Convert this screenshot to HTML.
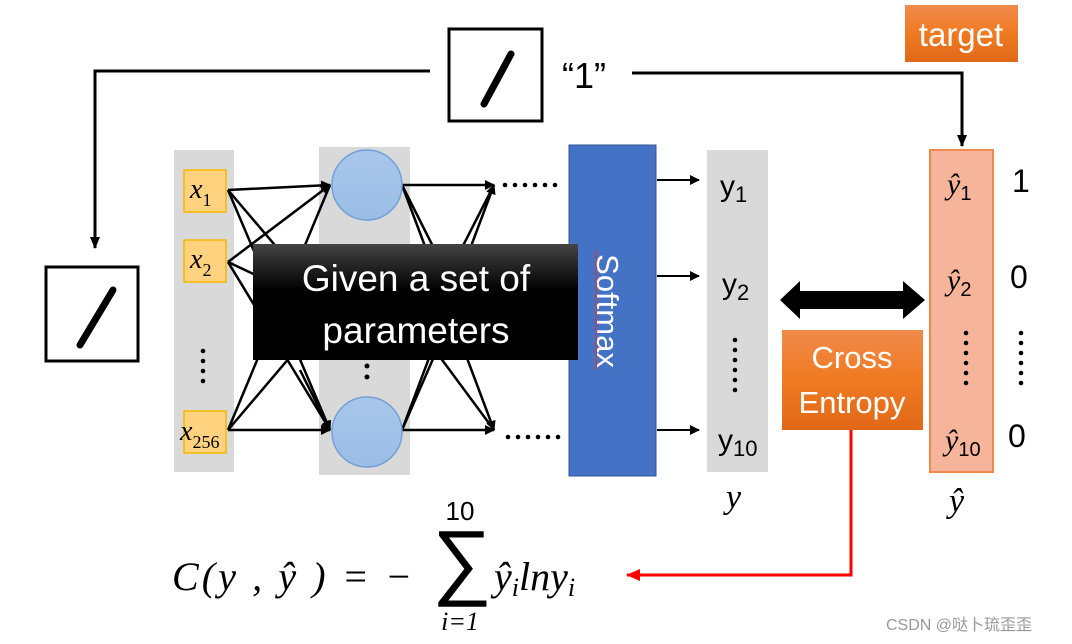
<!DOCTYPE html>
<html><head><meta charset="utf-8"><style>
html,body{margin:0;padding:0;background:#fff;}
svg{display:block;}
text{font-family:"Liberation Sans","Noto Sans CJK SC",sans-serif;}
.serif, .serif text, text.serif{font-family:"Liberation Serif","DejaVu Serif",serif;font-style:italic;}
</style></head><body>
<svg width="1072" height="644" viewBox="0 0 1072 644" xmlns="http://www.w3.org/2000/svg">
<defs>
<marker id="ah" markerWidth="10" markerHeight="10" refX="9" refY="5" orient="auto" markerUnits="userSpaceOnUse"><path d="M0,0 L10,5 L0,10 z" fill="#000"/></marker>
<marker id="ahs" markerWidth="12" markerHeight="12" refX="11" refY="6" orient="auto" markerUnits="userSpaceOnUse"><path d="M0,1 L12,6 L0,11 z" fill="#000"/></marker>
<marker id="ahr" markerWidth="14" markerHeight="12" refX="13" refY="6" orient="auto" markerUnits="userSpaceOnUse"><path d="M0,0 L14,6 L0,12 z" fill="#f00"/></marker>
<linearGradient id="og" x1="0" y1="0" x2="0" y2="1"><stop offset="0" stop-color="#f08a4b"/><stop offset="0.5" stop-color="#f07a22"/><stop offset="1" stop-color="#e06818"/></linearGradient>
<linearGradient id="bg" x1="0" y1="0" x2="0" y2="1"><stop offset="0" stop-color="#444"/><stop offset="0.4" stop-color="#000"/><stop offset="1" stop-color="#000"/></linearGradient>
<linearGradient id="cg" x1="0" y1="0" x2="0" y2="1"><stop offset="0" stop-color="#a9c6ea"/><stop offset="1" stop-color="#9bbde6"/></linearGradient>
</defs>

<rect x="449" y="29" width="93" height="92" fill="#fff" stroke="#000" stroke-width="3"/>
<line x1="511" y1="54" x2="484" y2="104" stroke="#000" stroke-width="7" stroke-linecap="round"/>
<text x="562" y="88" font-size="36" fill="#000">“1”</text>
<polyline points="430,71 95,71 95,248" fill="none" stroke="#000" stroke-width="3" marker-end="url(#ahs)"/>
<polyline points="632,73 962,73 962,146" fill="none" stroke="#000" stroke-width="3" marker-end="url(#ahs)"/>

<rect x="46" y="267" width="92" height="94" fill="#fff" stroke="#000" stroke-width="3"/>
<line x1="113" y1="290" x2="80" y2="345" stroke="#000" stroke-width="7" stroke-linecap="round"/>

<rect x="905" y="5" width="113" height="57" fill="url(#og)"/>
<text x="961" y="46" font-size="33" fill="#fff" text-anchor="middle">target</text>

<rect x="174" y="150" width="60" height="322" fill="#d9d9d9"/>
<rect x="319" y="147" width="91" height="328" fill="#d9d9d9"/>
<rect x="707" y="150" width="61" height="322" fill="#d9d9d9"/>
<rect x="930" y="150" width="63" height="322" fill="#f6b49a" stroke="#f08a4b" stroke-width="2"/>

<g stroke="#000" stroke-width="2.5" fill="none">
<line x1="228" y1="190" x2="330" y2="185" marker-end="url(#ah)"/>
<line x1="228" y1="190" x2="330" y2="430" marker-end="url(#ah)"/>
<line x1="228" y1="190" x2="330" y2="310"/>
<line x1="228" y1="262" x2="330" y2="185" marker-end="url(#ah)"/>
<line x1="228" y1="262" x2="330" y2="430" marker-end="url(#ah)"/>
<line x1="228" y1="262" x2="330" y2="310"/>
<line x1="228" y1="430" x2="330" y2="185"/>
<line x1="228" y1="430" x2="330" y2="430" marker-end="url(#ah)"/>
<line x1="228" y1="430" x2="330" y2="310"/>
<line x1="300" y1="370" x2="330" y2="430"/>
<line x1="402" y1="185" x2="494" y2="185" marker-end="url(#ah)"/>
<line x1="402" y1="185" x2="494" y2="430" marker-end="url(#ah)"/>
<line x1="402" y1="185" x2="460" y2="300"/>
<line x1="402" y1="430" x2="494" y2="185" marker-end="url(#ah)"/>
<line x1="402" y1="430" x2="494" y2="430" marker-end="url(#ah)"/>
<line x1="402" y1="430" x2="450" y2="320"/>
<line x1="420" y1="330" x2="494" y2="185"/>
<line x1="420" y1="330" x2="494" y2="430"/>
</g>

<circle cx="367" cy="185" r="35" fill="url(#cg)" stroke="#6fa0d8" stroke-width="1.5"/>
<circle cx="367" cy="432" r="35" fill="url(#cg)" stroke="#6fa0d8" stroke-width="1.5"/>
<g fill="#000">
<circle cx="367" cy="366" r="2.5"/><circle cx="367" cy="377" r="2.5"/>
</g>

<rect x="184" y="170" width="42" height="42" fill="#ffd27f" stroke="#f5b800" stroke-width="1.5"/>
<rect x="184" y="240" width="42" height="42" fill="#ffd27f" stroke="#f5b800" stroke-width="1.5"/>
<rect x="184" y="411" width="42" height="42" fill="#ffd27f" stroke="#f5b800" stroke-width="1.5"/>
<text class="serif" x="190" y="198" font-size="28">x<tspan font-size="18" font-style="normal" dy="8">1</tspan></text>
<text class="serif" x="190" y="268" font-size="28">x<tspan font-size="18" font-style="normal" dy="8">2</tspan></text>
<text class="serif" x="180" y="440" font-size="28">x<tspan font-size="18" font-style="normal" dy="8">256</tspan></text>
<g fill="#000">
<circle cx="203" cy="351" r="2.3"/><circle cx="203" cy="361" r="2.3"/><circle cx="203" cy="371" r="2.3"/><circle cx="203" cy="381" r="2.3"/>
</g>

<g fill="#000">
<circle cx="505" cy="185" r="2.3"/><circle cx="515" cy="185" r="2.3"/><circle cx="525" cy="185" r="2.3"/><circle cx="535" cy="185" r="2.3"/><circle cx="545" cy="185" r="2.3"/><circle cx="555" cy="185" r="2.3"/>
<circle cx="508" cy="437" r="2.3"/><circle cx="518" cy="437" r="2.3"/><circle cx="528" cy="437" r="2.3"/><circle cx="538" cy="437" r="2.3"/><circle cx="548" cy="437" r="2.3"/><circle cx="558" cy="437" r="2.3"/>
</g>

<rect x="569" y="145" width="87" height="331" fill="#4472c4" stroke="#2f5597" stroke-width="1"/>
<text transform="translate(597,311) rotate(90)" font-size="31" fill="#fff" text-anchor="middle">Softmax</text>
<path d="M596,250 q1.5,2 0,4 q-1.5,2 0,4 q1.5,2 0,4 q-1.5,2 0,4 q1.5,2 0,4 q-1.5,2 0,4 q1.5,2 0,4 q-1.5,2 0,4 q1.5,2 0,4 q-1.5,2 0,4 q1.5,2 0,4 q-1.5,2 0,4 q1.5,2 0,4 q-1.5,2 0,4 q1.5,2 0,4 q-1.5,2 0,4 q1.5,2 0,4 q-1.5,2 0,4 q1.5,2 0,4 q-1.5,2 0,4 q1.5,2 0,4 q-1.5,2 0,4 q1.5,2 0,4 q-1.5,2 0,4 q1.5,2 0,4 q-1.5,2 0,4 q1.5,2 0,4 q-1.5,2 0,4 q1.5,2 0,4 q-1.5,2 0,4" fill="none" stroke="#e03030" stroke-width="1"/>

<rect x="253" y="244" width="325" height="116" fill="url(#bg)"/>
<text x="416" y="291" font-size="37" fill="#fff" text-anchor="middle">Given a set of</text>
<text x="416" y="343" font-size="37" fill="#fff" text-anchor="middle">parameters</text>

<g stroke="#000" stroke-width="2">
<line x1="657" y1="180" x2="699" y2="180" marker-end="url(#ah)"/>
<line x1="657" y1="276" x2="699" y2="276" marker-end="url(#ah)"/>
<line x1="657" y1="430" x2="699" y2="430" marker-end="url(#ah)"/>
</g>

<text x="720" y="196" font-size="30">y<tspan font-size="22" dy="6">1</tspan></text>
<text x="722" y="294" font-size="30">y<tspan font-size="22" dy="6">2</tspan></text>
<text x="718" y="450" font-size="30">y<tspan font-size="22" dy="6">10</tspan></text>
<g fill="#000"><circle cx="735" cy="340" r="2.3"/><circle cx="735" cy="350" r="2.3"/><circle cx="735" cy="360" r="2.3"/><circle cx="735" cy="370" r="2.3"/><circle cx="735" cy="380" r="2.3"/><circle cx="735" cy="390" r="2.3"/></g>
<text class="serif" x="726" y="508" font-size="34">y</text>

<path d="M780,300 L800,281 L800,291 L903,291 L903,281 L925,300 L903,319 L903,309 L800,309 L800,319 Z" fill="#000"/>

<rect x="782" y="330" width="141" height="100" fill="url(#og)"/>
<text x="852" y="368" font-size="31" fill="#fff" text-anchor="middle">Cross</text>
<text x="852" y="413" font-size="31" fill="#fff" text-anchor="middle">Entropy</text>

<g class="serif" font-size="30">
<text x="947" y="194">ŷ<tspan font-size="20" font-style="normal" font-family="Liberation Sans" dy="6">1</tspan></text>
<text x="947" y="290">ŷ<tspan font-size="20" font-style="normal" font-family="Liberation Sans" dy="6">2</tspan></text>
<text x="945" y="450">ŷ<tspan font-size="20" font-style="normal" font-family="Liberation Sans" dy="6">10</tspan></text>
<text x="949" y="512" font-size="34">ŷ</text>
</g>
<g fill="#000"><circle cx="966" cy="333" r="2.3"/><circle cx="966" cy="343" r="2.3"/><circle cx="966" cy="353" r="2.3"/><circle cx="966" cy="363" r="2.3"/><circle cx="966" cy="373" r="2.3"/><circle cx="966" cy="383" r="2.3"/>
<circle cx="1021" cy="333" r="2.3"/><circle cx="1021" cy="343" r="2.3"/><circle cx="1021" cy="353" r="2.3"/><circle cx="1021" cy="363" r="2.3"/><circle cx="1021" cy="373" r="2.3"/><circle cx="1021" cy="383" r="2.3"/></g>
<text x="1012" y="192" font-size="32">1</text>
<text x="1010" y="288" font-size="32">0</text>
<text x="1008" y="447" font-size="32">0</text>

<polyline points="851,430 851,575 627,575" fill="none" stroke="#f00" stroke-width="3" marker-end="url(#ahr)"/>

<g class="serif" font-size="40">
<text x="172" y="590" textLength="240" lengthAdjust="spacing">C(y , ŷ ) = −</text>
<text x="494" y="590">ŷ<tspan font-size="26" dy="6">i</tspan><tspan dy="-6">lny</tspan><tspan font-size="26" dy="6">i</tspan></text>
</g>
<text x="432" y="589" font-size="84" font-family="Liberation Serif,serif">∑</text>
<text x="460" y="520" font-size="26" text-anchor="middle" font-family="Liberation Serif,serif">10</text>
<text class="serif" x="460" y="630" font-size="26" text-anchor="middle">i=1</text>

<text x="886" y="630" font-size="16" fill="#999">CSDN @哒卜琉歪歪</text>
</svg>
</body></html>
